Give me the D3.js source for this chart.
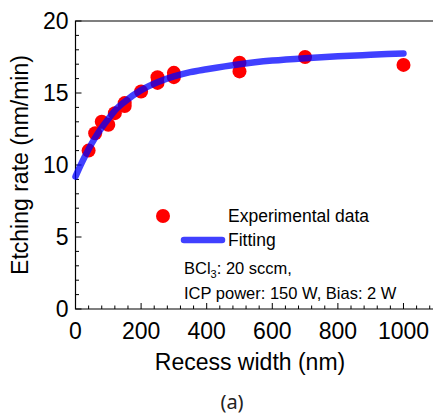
<!DOCTYPE html>
<html>
<head>
<meta charset="utf-8">
<script src="https://cdn.jsdelivr.net/npm/d3@7"></script>
<style>
  body { margin: 0; background: #fff; }
  text { font-family: "Liberation Sans", Arial, sans-serif; }
</style>
</head>
<body>
<svg id="chart" width="433" height="414"></svg>
<script>
// experimental points (nm, nm/min)
var expWidth = [40, 60, 80, 100, 120, 150, 150, 200, 250, 250, 300, 300, 500, 500, 700, 1000];
var expRate  = [11.0, 12.2, 13.0, 12.8, 13.6, 14.1, 14.3, 15.1, 15.7, 16.1, 16.1, 16.4, 17.1, 16.5, 17.5, 16.95];

// fitting curve
var fitWidth = [0, 20, 40, 60, 80, 100, 125, 150, 200, 250, 300, 350, 400, 500, 600, 700, 800, 900, 1000];
var fitRate  = [9.2, 10.2, 11.1, 11.9, 12.6, 13.2, 13.9, 14.4, 15.2, 15.75, 16.15, 16.45, 16.65, 17.0, 17.25, 17.42, 17.55, 17.65, 17.75];

var xTicks = [0, 200, 400, 600, 800, 1000];
var yTicks = [0, 5, 10, 15, 20];

var svg = d3.select("#chart");
var mLeft = 75.5, mRight = 433, mTop = 21, mBottom = 309;

var x = d3.scaleLinear().domain([0, 1090]).range([mLeft, mRight]);
var y = d3.scaleLinear().domain([0, 20]).range([mBottom, mTop]);

// frame: left, bottom, top
svg.append("path")
    .attr("d", "M" + mRight + "," + mTop + "H" + mLeft + "V" + mBottom + "H" + mRight)
    .attr("fill", "none")
    .attr("stroke", "#000")
    .attr("stroke-width", 1.2);

// ticks, pointing inward
svg.append("g").selectAll("line")
    .data(d3.range(0, 1090, 40))
    .enter().append("line")
    .attr("x1", d => x(d)).attr("x2", d => x(d))
    .attr("y1", mBottom).attr("y2", d => d % 200 == 0 ? mBottom - 6 : mBottom - 3.5)
    .attr("stroke", "#000");
svg.append("g").selectAll("line")
    .data(d3.range(0, 21, 1))
    .enter().append("line")
    .attr("y1", d => y(d)).attr("y2", d => y(d))
    .attr("x1", mLeft).attr("x2", d => d % 5 == 0 ? mLeft + 6 : mLeft + 3.5)
    .attr("stroke", "#000");

// tick labels
svg.append("g").selectAll("text")
    .data(xTicks)
    .enter().append("text")
    .attr("x", d => x(d))
    .attr("y", mBottom + 30)
    .attr("text-anchor", "middle")
    .attr("font-size", 23)
    .text(d => d);
svg.append("g").selectAll("text")
    .data(yTicks)
    .enter().append("text")
    .attr("x", mLeft - 7)
    .attr("y", d => y(d))
    .attr("dy", "0.36em")
    .attr("text-anchor", "end")
    .attr("font-size", 23)
    .text(d => d);

// axis titles
svg.append("text")
    .attr("x", 250).attr("y", 370)
    .attr("text-anchor", "middle")
    .attr("font-size", 23)
    .text("Recess width (nm)");
svg.append("text")
    .attr("transform", "translate(28," + ((mTop + mBottom) / 2) + ") rotate(-90)")
    .attr("text-anchor", "middle")
    .attr("font-size", 23)
    .text("Etching rate (nm/min)");
svg.append("text")
    .attr("x", 232).attr("y", 409)
    .attr("text-anchor", "middle")
    .attr("font-size", 20)
    .attr("fill", "#222")
    .style("font-family", "'Noto Sans', sans-serif")
    .text("(a)");

// data points
svg.append("g").selectAll("circle")
    .data(expWidth)
    .enter().append("circle")
    .attr("cx", d => x(d))
    .attr("cy", (d, i) => y(expRate[i]))
    .attr("r", 7)
    .attr("fill", "#ff0000");

// fit line
var fitData = fitWidth.map((d, i) => [d, fitRate[i]]);
var line = d3.line()
    .x(d => x(d[0]))
    .y(d => y(d[1]))
    .curve(d3.curveMonotoneX);
svg.append("path")
    .datum(fitData)
    .attr("d", line)
    .attr("fill", "none")
    .attr("stroke", "#0000ff")
    .attr("stroke-opacity", 0.75)
    .attr("stroke-width", 6.5)
    .attr("stroke-linecap", "round");

// legend
svg.append("circle")
    .attr("cx", 163).attr("cy", 216).attr("r", 7)
    .attr("fill", "#ff0000");
svg.append("text")
    .attr("x", 228).attr("y", 222)
    .attr("font-size", 17.5)
    .text("Experimental data");
svg.append("line")
    .attr("x1", 184).attr("x2", 222)
    .attr("y1", 240).attr("y2", 240)
    .attr("stroke", "#0000ff")
    .attr("stroke-opacity", 0.75)
    .attr("stroke-width", 6.5)
    .attr("stroke-linecap", "round");
svg.append("text")
    .attr("x", 228).attr("y", 246)
    .attr("font-size", 17.5)
    .text("Fitting");

var note = svg.append("text")
    .attr("x", 184).attr("y", 274)
    .attr("font-size", 16.5);
note.append("tspan").text("BCl");
note.append("tspan").attr("font-size", 11).attr("dy", 4).text("3");
note.append("tspan").attr("dy", -4).text(": 20 sccm,");
svg.append("text")
    .attr("x", 184).attr("y", 299)
    .attr("font-size", 16.5)
    .text("ICP power: 150 W, Bias: 2 W");
</script>
</body>
</html>
